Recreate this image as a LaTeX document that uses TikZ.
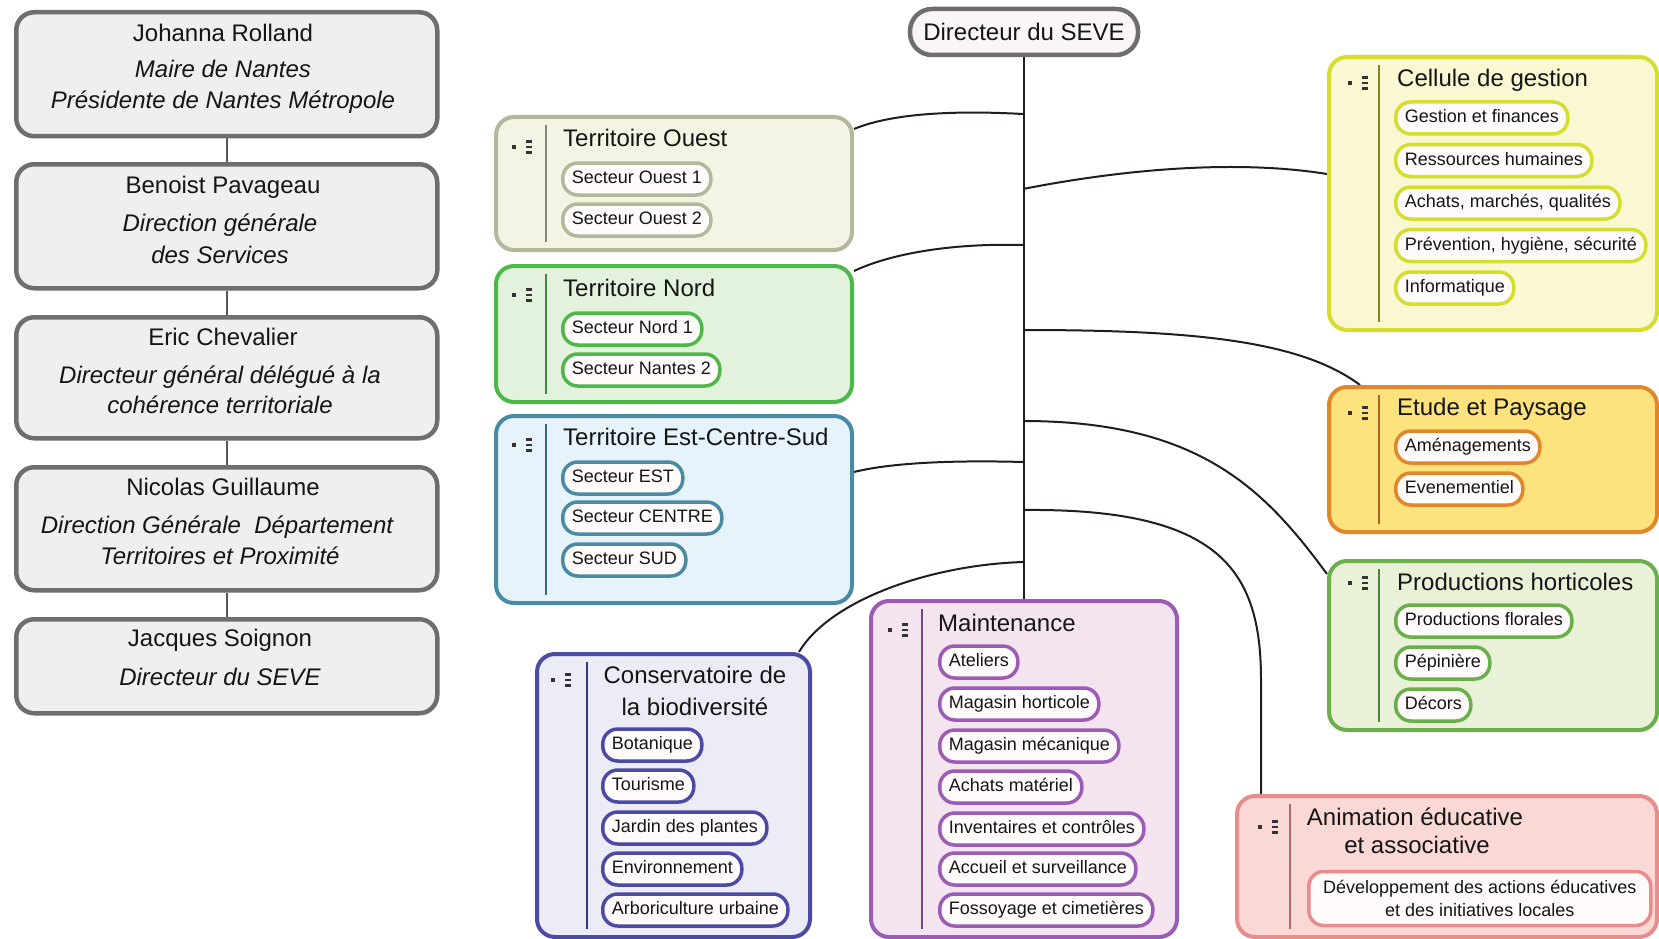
\documentclass[tikz,border=0pt]{standalone}
\usepackage{fontspec}
\setmainfont{Liberation Sans}
\usetikzlibrary{backgrounds}
\definecolor{txt}{HTML}{151515}
\definecolor{lboxfill}{HTML}{EFEFEF}
\definecolor{lboxdraw}{HTML}{6E6E6E}
\definecolor{linkc}{HTML}{1B1F24}
\definecolor{pillfill}{HTML}{FFFBFA}
\definecolor{sevefill}{HTML}{FAF6F6}
\definecolor{ouestD}{HTML}{B3B89C}\definecolor{ouestF}{HTML}{F4F4E5}
\definecolor{nordD}{HTML}{4DB84A}\definecolor{nordF}{HTML}{E3F2DD}
\definecolor{estD}{HTML}{4A8BA4}\definecolor{estF}{HTML}{E6F3FA}
\definecolor{celD}{HTML}{D5DD2E}\definecolor{celF}{HTML}{FAF8D2}
\definecolor{etuD}{HTML}{E2862A}\definecolor{etuF}{HTML}{FDE27E}
\definecolor{proD}{HTML}{6BAF4A}\definecolor{proF}{HTML}{E9F2D9}
\definecolor{conD}{HTML}{4B4BA6}\definecolor{conF}{HTML}{ECECF6}
\definecolor{maiD}{HTML}{9C5CB5}\definecolor{maiF}{HTML}{F3E4F0}
\definecolor{aniD}{HTML}{E88C8C}\definecolor{aniF}{HTML}{F9D8D6}
\definecolor{iconc}{HTML}{333333}
\newcommand{\mylisticon}[2]{%
  \fill[iconc] (#1-1.8,#2-1.8) rectangle (#1+1.8,#2+1.8);
  \foreach \dy in {-5.5,0,5.5}{\fill[iconc] (#1+12,#2+\dy-1.2) rectangle (#1+18,#2+\dy+1.2);}
}
\begin{document}
\begin{tikzpicture}[x=1pt,y=-1pt,
  lbox/.style={draw=lboxdraw, fill=lboxfill, line width=4.5pt, rounded corners=18pt, anchor=north west, inner sep=0pt, minimum width=421pt},
  grp/.style={line width=4pt, rounded corners=18pt, anchor=north west, inner sep=0pt},
  pill/.style={line width=3.5pt, rounded corners=15pt, fill=pillfill, anchor=west, inner xsep=9pt, inner ysep=0pt, minimum height=32pt, font=\fontsize{18}{22}\selectfont, text=txt},
  pillone/.style={pill, text height=13.5pt, text depth=4pt},
  ttl/.style={anchor=base west, inner sep=0pt, font=\fontsize{24}{29}\selectfont, text=txt},
  ttlc/.style={anchor=base, inner sep=0pt, font=\fontsize{24}{29}\selectfont, text=txt},
  lname/.style={anchor=base, inner sep=0pt, font=\fontsize{24}{29}\selectfont, text=txt},
  lrole/.style={anchor=base, inner sep=0pt, font=\fontsize{24}{29}\selectfont\itshape, text=txt},
  link/.style={line width=2pt, draw=linkc},
  lconn/.style={line width=2.5pt, draw=lboxdraw!80!black},
  sepl/.style={line width=1.3pt}
]
\useasboundingbox (0,0) rectangle (1659,939);

% ---------- left column ----------
\node[lbox, minimum height=124pt] (l1) at (14,10) {};
\node[lbox, minimum height=124pt] (l2) at (14,162) {};
\node[lbox, minimum height=121pt] (l3) at (14,315) {};
\node[lbox, minimum height=123pt] (l4) at (14,465) {};
\node[lbox, minimum height=94pt] (l5) at (14,617) {};

\node[lname] (l1n) at (223,41.5) {Johanna Rolland};
\node[lrole] (l1a) at (223,78) {Maire de Nantes};
\node[lrole] (l1b) at (223,109) {Présidente de Nantes Métropole};

\node[lname] (l2n) at (223,193.5) {Benoist Pavageau};
\node[lrole] (l2a) at (220,231) {Direction générale};
\node[lrole] (l2b) at (220,263) {des Services};

\node[lname] (l3n) at (223,345.5) {Eric Chevalier};
\node[lrole] (l3a) at (220,383) {Directeur général délégué à la};
\node[lrole] (l3b) at (220,413) {cohérence territoriale};

\node[lname] (l4n) at (223,495.5) {Nicolas Guillaume};
\node[lrole] (l4a) at (217,533) {Direction Générale\ \ Département};
\node[lrole] (l4b) at (220,564) {Territoires et Proximité};

\node[lname] (l5n) at (220,646.5) {Jacques Soignon};
\node[lrole] (l5a) at (220,685) {Directeur du SEVE};

% ---------- root ----------
\node[draw=lboxdraw, fill=sevefill, line width=4.5pt, rounded corners=22pt, minimum width=228pt, minimum height=46pt, inner sep=0pt, font=\fontsize{24}{29}\selectfont, text=txt] (seve) at (1024,32) {Directeur du SEVE};

% ---------- group boxes ----------
\node[grp, draw=ouestD, fill=ouestF, minimum width=356pt, minimum height=133pt] (ouest) at (494,115) {};
\node[grp, draw=nordD, fill=nordF, minimum width=356pt, minimum height=136pt] (nord) at (494,264) {};
\node[grp, draw=estD, fill=estF, minimum width=356pt, minimum height=187pt] (est) at (494,414) {};
\node[grp, draw=celD, fill=celF, minimum width=328pt, minimum height=273pt] (cel) at (1327,55) {};
\node[grp, draw=etuD, fill=etuF, minimum width=328pt, minimum height=145pt] (etu) at (1327,385) {};
\node[grp, draw=proD, fill=proF, minimum width=328pt, minimum height=169pt] (pro) at (1327,559) {};
\node[grp, draw=conD, fill=conF, minimum width=273pt, minimum height=283pt] (con) at (535,652) {};
\node[grp, draw=maiD, fill=maiF, minimum width=306pt, minimum height=336pt] (mai) at (869,599) {};
\node[grp, draw=aniD, fill=aniF, minimum width=420pt, minimum height=141pt] (ani) at (1235,794) {};

% separators
\draw[sepl, ouestD!75!black] ([xshift=52pt,yshift=-10pt]ouest.north west) -- ([xshift=52pt,yshift=10pt]ouest.south west);
\draw[sepl, nordD!75!black] ([xshift=52pt,yshift=-10pt]nord.north west) -- ([xshift=52pt,yshift=10pt]nord.south west);
\draw[sepl, estD!75!black] ([xshift=52pt,yshift=-10pt]est.north west) -- ([xshift=52pt,yshift=10pt]est.south west);
\draw[sepl, celD!60!black] ([xshift=52pt,yshift=-10pt]cel.north west) -- ([xshift=52pt,yshift=10pt]cel.south west);
\draw[sepl, etuD!75!black] ([xshift=52pt,yshift=-10pt]etu.north west) -- ([xshift=52pt,yshift=10pt]etu.south west);
\draw[sepl, proD!75!black] ([xshift=52pt,yshift=-10pt]pro.north west) -- ([xshift=52pt,yshift=10pt]pro.south west);
\draw[sepl, conD!75!black] ([xshift=52pt,yshift=-10pt]con.north west) -- ([xshift=52pt,yshift=10pt]con.south west);
\draw[sepl, maiD!75!black] ([xshift=53pt,yshift=-10pt]mai.north west) -- ([xshift=53pt,yshift=10pt]mai.south west);
\draw[sepl, aniD!75!black] ([xshift=55pt,yshift=-10pt]ani.north west) -- ([xshift=55pt,yshift=10pt]ani.south west);

% icons
\mylisticon{513.7}{147}
\mylisticon{513.7}{295}
\mylisticon{513.7}{445}
\mylisticon{1350}{83}
\mylisticon{1350}{413}
\mylisticon{1350}{583}
\mylisticon{553}{680}
\mylisticon{890}{630}
\mylisticon{1260}{827}

% titles
\node[ttl] (tOuest) at (563,146.5) {Territoire Ouest};
\node[ttl] (tNord) at (563,296.5) {Territoire Nord};
\node[ttl] (tEst) at (563,445.5) {Territoire Est-Centre-Sud};
\node[ttl] (tCel) at (1397,86.5) {Cellule de gestion};
\node[ttl] (tEtu) at (1397,415.5) {Etude et Paysage};
\node[ttl] (tPro) at (1397,590.5) {Productions horticoles};
\node[ttlc] (tCon1) at (695,683.5) {Conservatoire de};
\node[ttlc] (tCon2) at (695,715.5) {la biodiversité};
\node[ttl] (tMai) at (938,631.5) {Maintenance};
\node[ttlc] (tAni1) at (1415,825.5) {Animation éducative};
\node[ttlc] (tAni2) at (1417,853.5) {et associative};

% pills
\node[pillone, draw=ouestD] (o1) at (561,179) {Secteur Ouest 1};
\node[pillone, draw=ouestD] (o2) at (561,220) {Secteur Ouest 2};
\node[pillone, draw=nordD] (n1) at (561,329) {Secteur Nord 1};
\node[pillone, draw=nordD] (n2) at (561,370) {Secteur Nantes 2};
\node[pillone, draw=estD] (e1) at (561,478) {Secteur EST};
\node[pillone, draw=estD] (e2) at (561,518) {Secteur CENTRE};
\node[pillone, draw=estD] (e3) at (561,560) {Secteur SUD};

\node[pillone, draw=celD] (c1) at (1394,118) {Gestion et finances};
\node[pillone, draw=celD] (c2) at (1394,160.5) {Ressources humaines};
\node[pillone, draw=celD] (c3) at (1394,203) {Achats, marchés, qualités};
\node[pillone, draw=celD] (c4) at (1394,245.5) {Prévention, hygiène, sécurité};
\node[pillone, draw=celD] (c5) at (1394,288) {Informatique};

\node[pillone, draw=etuD] (et1) at (1394,447) {Aménagements};
\node[pillone, draw=etuD] (et2) at (1394,489) {Evenementiel};

\node[pillone, draw=proD] (h1) at (1394,621) {Productions florales};
\node[pillone, draw=proD] (h2) at (1394,663) {Pépinière};
\node[pillone, draw=proD] (h3) at (1394,705) {Décors};

\node[pillone, draw=conD] (v1) at (601,745) {Botanique};
\node[pillone, draw=conD] (v2) at (601,786) {Tourisme};
\node[pillone, draw=conD] (v3) at (601,828) {Jardin des plantes};
\node[pillone, draw=conD] (v4) at (601,869) {Environnement};
\node[pillone, draw=conD] (v5) at (601,910) {Arboriculture urbaine};

\node[pillone, draw=maiD] (m1) at (938,662) {Ateliers};
\node[pillone, draw=maiD] (m2) at (938,704) {Magasin horticole};
\node[pillone, draw=maiD] (m3) at (938,746) {Magasin mécanique};
\node[pillone, draw=maiD] (m4) at (938,787) {Achats matériel};
\node[pillone, draw=maiD] (m5) at (938,829) {Inventaires et contrôles};
\node[pillone, draw=maiD] (m6) at (938,869) {Accueil et surveillance};
\node[pillone, draw=maiD] (m7) at (938,910) {Fossoyage et cimetières};

\node[pill, draw=aniD, align=center, minimum width=342pt, minimum height=54pt, font=\fontsize{18}{23}\selectfont] (a1) at (1307,898.5) {Développement des actions éducatives\\et des initiatives locales};

% trunk points
\coordinate (tO) at (1023,114);
\coordinate (tC) at (1023,189);
\coordinate (tN) at (1023,245);
\coordinate (tE) at (1023,330);
\coordinate (tP) at (1023,421);
\coordinate (tS) at (1023,462);
\coordinate (tA) at (1023,510);
\coordinate (tV) at (1023,562);

\begin{scope}[on background layer]
  \fill[white] (0,0) rectangle (1659,939);
  \draw[lconn] (l1.south) -- (l2.north);
  \draw[lconn] (l2.south) -- (l3.north);
  \draw[lconn] (l3.south) -- (l4.north);
  \draw[lconn] (l4.south) -- (l5.north);
  \draw[link, line width=2.3pt] (seve.south) -- (seve.south |- mai.north);
  \draw[link] (tO) .. controls (950,110) and (890,114) .. ([yshift=-14pt]ouest.north east);
  \draw[link] (tN) .. controls (950,243) and (890,254) .. ([yshift=-7pt]nord.north east);
  \draw[link] (tS) .. controls (950,460) and (890,463) .. ([yshift=37.5pt]est.east);
  \draw[link] (tC) .. controls (1130,168) and (1240,160) .. ([yshift=19.5pt]cel.west);
  \draw[link] (tE) .. controls (1190,330) and (1300,340) .. ([xshift=33pt]etu.north west);
  \draw[link] (tP) .. controls (1200,421) and (1265,490) .. ([yshift=-15pt]pro.north west);
  \draw[link] (tV) .. controls (930,565) and (830,600) .. ([xshift=-13pt]con.north east);
  \draw[link] (tA) .. controls (1220,508) and (1261,570) .. (1261,680) -- ([xshift=26pt]ani.north west);
\end{scope}
\end{tikzpicture}
\end{document}
